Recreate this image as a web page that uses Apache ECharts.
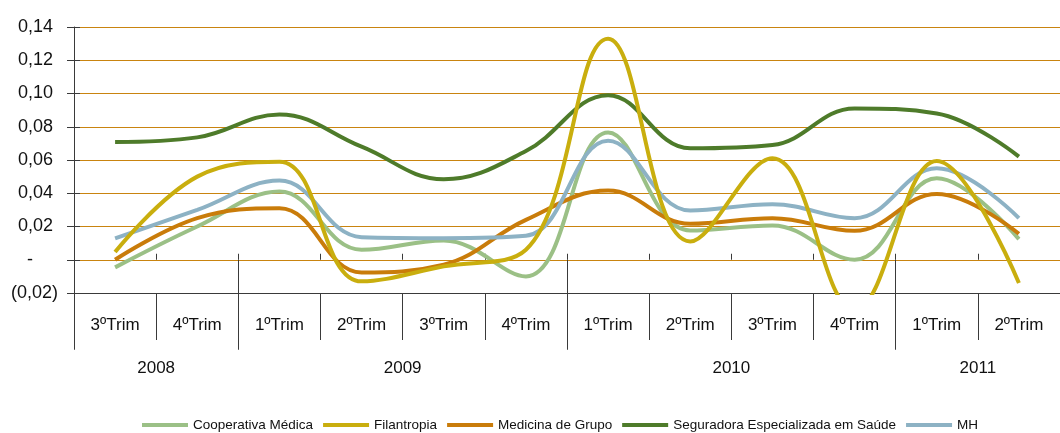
<!DOCTYPE html>
<html>
<head>
<meta charset="utf-8">
<script src="https://cdn.jsdelivr.net/npm/echarts@6/dist/echarts.min.js"></script>
<style>
html,body{margin:0;padding:0;background:#fff;}
#chart{width:1060px;height:433px;}
</style>
</head>
<body>
<div id="chart"></div>
<script>
// ---- Data ----
const quarters = ['3ºTrim','4ºTrim','1ºTrim','2ºTrim','3ºTrim','4ºTrim','1ºTrim','2ºTrim','3ºTrim','4ºTrim','1ºTrim','2ºTrim'];
const years = ['2008','2009','2010','2011'];
const quartersPerYear = [2, 4, 4, 2];

const seriesNames = ['Cooperativa Médica','Filantropia','Medicina de Grupo','Seguradora Especializada em Saúde','MH'];
const cooperativaMedica = [-0.0046, 0.020, 0.041, 0.006, 0.0116, -0.010, 0.0766, 0.0176, 0.0206, 0.0000, 0.049, 0.0124];
const filantropia       = [0.0046, 0.050, 0.059, -0.013, -0.004, 0.006, 0.133, 0.011, 0.061, -0.030, 0.0594, -0.014];
const medicinaDeGrupo   = [0.0000, 0.025, 0.031, -0.0076, -0.003, 0.024, 0.0416, 0.0216, 0.025, 0.0174, 0.0396, 0.0156];
const seguradora        = [0.0708, 0.0736, 0.0874, 0.068, 0.0484, 0.0654, 0.099, 0.067, 0.069, 0.091, 0.088, 0.062];
const mh                = [0.0128, 0.030, 0.0476, 0.0136, 0.013, 0.0144, 0.0716, 0.0296, 0.0334, 0.025, 0.055, 0.025];

const yMin = -0.02, yMax = 0.14, yStep = 0.02;

// ---- Styling ----
const colors = ['#9BC086', '#C9AE0E', '#C97C0A', '#4E7B2A', '#8DB2C4'];
const FONT = '"Liberation Sans", Arial, sans-serif';
const axisColor = '#3a3a3a';

// build year axis slots (boundaries 0..12)
const nQ = quarters.length;
const yearSlots = new Array(nQ + 1).fill('');
const boundaryIdx = [0];
let acc = 0;
quartersPerYear.forEach((c, i) => {
  yearSlots[acc + c / 2] = years[i];
  acc += c;
  boundaryIdx.push(acc);
});

function fmtY(v) {
  const r = Math.round(v * 100) / 100;
  if (Math.abs(r) < 1e-9) return '-     ';
  const s = Math.abs(r).toFixed(2).replace('.', ',');
  return r < 0 ? '(' + s + ')' : s + ' ';
}

const dataSets = [cooperativaMedica, filantropia, medicinaDeGrupo, seguradora, mh];

const chart = echarts.init(document.getElementById('chart'), null, {renderer: 'canvas'});
chart.setOption({
  animation: false,
  color: colors,
  grid: {left: 74, top: 27, bottom: 140, width: 995, containLabel: false},
  legend: {
    left: 142, top: 418, padding: 0,
    icon: 'rect', itemWidth: 46, itemHeight: 4, itemGap: 10,
    textStyle: {fontFamily: FONT, fontSize: 13.5, color: '#111'},
    data: seriesNames
  },
  xAxis: [
    {
      type: 'category', position: 'bottom', data: quarters, boundaryGap: true,
      axisLine: {show: true, onZero: false, lineStyle: {color: axisColor, width: 1}},
      axisTick: {show: true, length: 47, interval: 0, lineStyle: {color: axisColor}},
      axisLabel: {interval: 0, margin: 24, fontFamily: FONT, fontSize: 17, color: '#111'}
    },
    {
      type: 'category', position: 'bottom', data: yearSlots, boundaryGap: false,
      axisLine: {show: false},
      axisTick: {show: true, length: 90, interval: (i) => boundaryIdx.includes(i), lineStyle: {color: axisColor}},
      axisLabel: {interval: (i) => yearSlots[i] !== '', margin: 67, fontFamily: FONT, fontSize: 17, color: '#111'}
    },
    {
      type: 'category', position: 'bottom', data: quarters, boundaryGap: true,
      axisLine: {show: false},
      axisTick: {show: true, inside: true, length: 6, interval: 0, lineStyle: {color: axisColor}},
      axisLabel: {show: false}
    }
  ],
  yAxis: [
    {
      type: 'value', position: 'left', min: yMin, max: yMax, interval: yStep,
      axisLine: {show: true, onZero: false, lineStyle: {color: axisColor}},
      axisTick: {show: true, length: 7, lineStyle: {color: axisColor}},
      axisLabel: {margin: 16, formatter: fmtY, fontFamily: FONT, fontSize: 18, color: '#111'},
      splitLine: {show: true, lineStyle: {color: '#C9840F', width: 1}}
    },
    {
      type: 'value', position: 'left', min: yMin, max: yMax, interval: yStep,
      axisLine: {show: false},
      axisTick: {show: true, inside: true, length: 6, lineStyle: {color: axisColor}},
      axisLabel: {show: false},
      splitLine: {show: false}
    }
  ],
  series: seriesNames.map((name, i) => ({
    name: name, type: 'line', data: dataSets[i], smooth: 0.4,
    symbol: 'none', clip: true,
    lineStyle: {width: 4, color: colors[i]},
    z: i === 1 ? 3 : 2
  }))
});
</script>
</body>
</html>
